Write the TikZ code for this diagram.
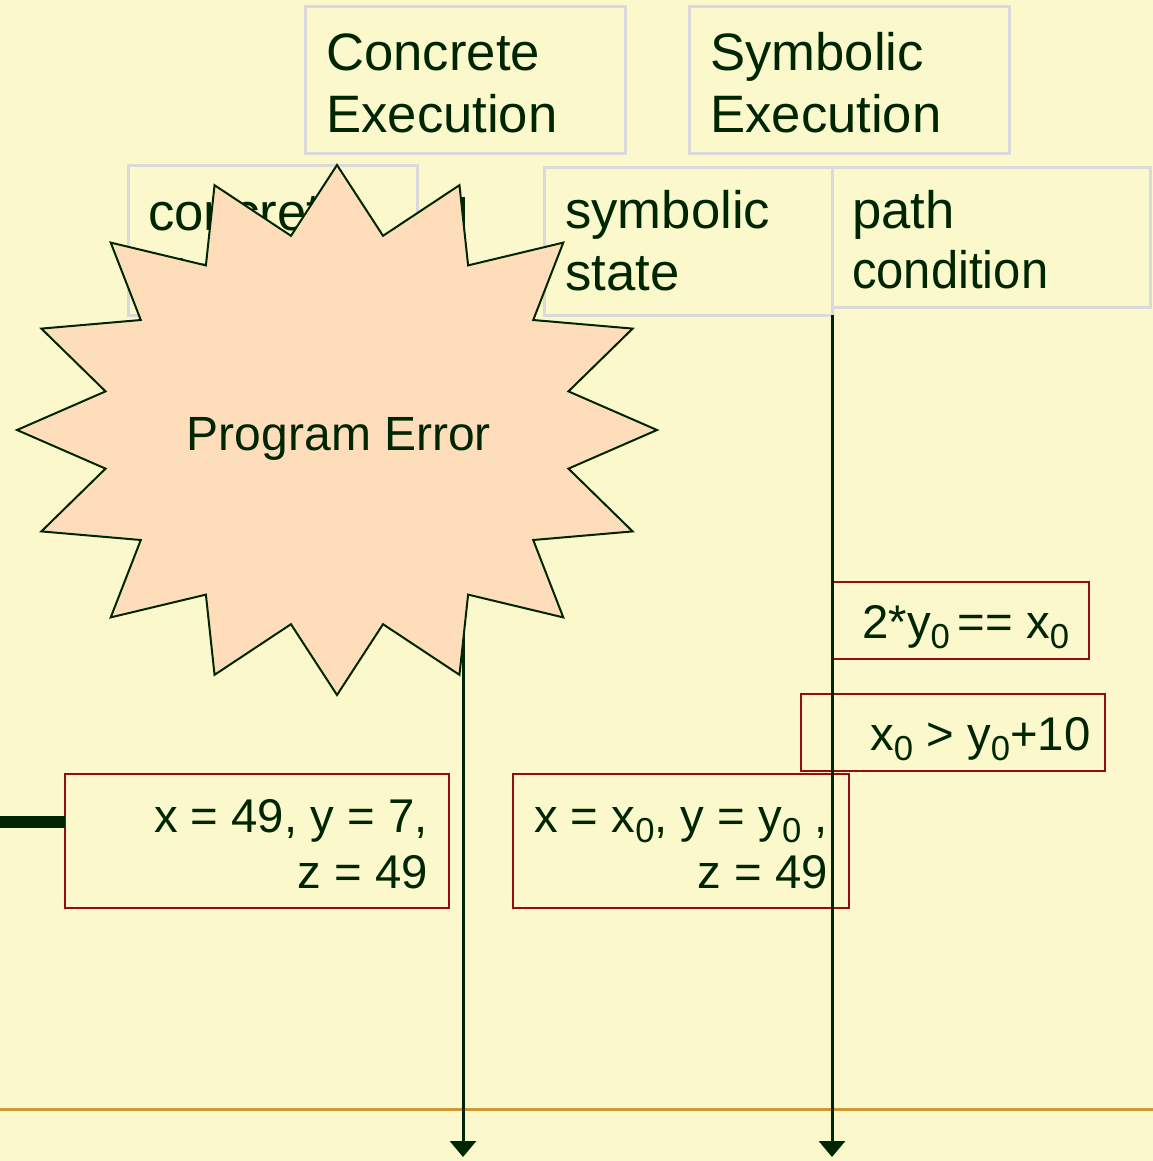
\documentclass[tikz,border=0pt]{standalone}
\usepackage{fontspec}
\setmainfont{Liberation Sans}
\usetikzlibrary{arrows.meta}
\definecolor{bgc}{RGB}{251,249,204}
\definecolor{ink}{RGB}{0,38,0}
\definecolor{redb}{RGB}{150,12,12}
\definecolor{grayb}{RGB}{218,218,218}
\definecolor{peach}{RGB}{254,221,187}
\definecolor{gold}{RGB}{204,153,51}
\newcommand\zsub{\raisebox{-8pt}{\fontsize{26}{26}\selectfont 0}}
\begin{document}
\begin{tikzpicture}[x=0.75pt,y=-0.75pt,
  hbox/.style={draw=grayb, line width=2.25pt, inner sep=0pt, outer sep=0pt, anchor=north west},
  rbox/.style={draw=redb, line width=1.8pt, inner sep=0pt, outer sep=0pt, anchor=north west},
  hd/.style={inner sep=0pt, text=ink, font=\fontsize{39.5}{39.5}\selectfont},
  val/.style={inner sep=0pt, text=ink, font=\fontsize{35.5}{35.5}\selectfont},
  flow/.style={draw=ink, line width=2.25pt, -{Triangle[width=19.5pt,length=12pt]}},
  starshape/.style={draw=ink, fill=peach, line width=1.5pt, line join=miter}]
\useasboundingbox (0,0) rectangle (1153,1161);
\fill[bgc] (0,0) rectangle (1153,1161);
% header boxes
\node[hbox, minimum width=240pt, minimum height=110.25pt] (ce) at (305,6) {};
\node[hbox, minimum width=240pt, minimum height=110.25pt] (se) at (689,6) {};
\node[hbox, minimum width=216.75pt, minimum height=112.5pt] (cs) at (128,165) {};
\node[hbox, minimum width=216pt, minimum height=111pt] (ss) at (544,167) {};
\node[hbox, minimum width=238.5pt, minimum height=105pt] (pc) at (832,167) {};
% header texts
\node[hd, anchor=base west] (ce1) at (326,70) {Concrete};
\node[hd, anchor=base west] (ce2) at (326,132) {Execution};
\node[hd, anchor=base west] (se1) at (710,70) {Symbolic};
\node[hd, anchor=base west] (se2) at (710,132) {Execution};
\node[hd, anchor=base west] (cs1) at (148,230) {concrete};
\node[hd, anchor=base west] (cs2) at (148,292) {state};
\node[hd, anchor=base west] (ss1) at (565,228) {symbolic};
\node[hd, anchor=base west] (ss2) at (565,290) {state};
\node[hd, anchor=base west] (pc1) at (852,228) {path};
\node[hd, anchor=base west] (pc2) at (852,288) {\scalebox{0.93}[1]{condition}};
% value boxes
\node[rbox, minimum width=288pt, minimum height=100.5pt] (cv) at (65,774) {};
\node[rbox, minimum width=252pt, minimum height=100.5pt] (sv) at (513,774) {};
\node[rbox, minimum width=192pt, minimum height=57.75pt] (p1) at (833,582) {};
\node[rbox, minimum width=228pt, minimum height=57.75pt] (p2) at (801,694) {};
\node[val, anchor=base east] (cv1) at (428,832) {x = 49, y = 7,};
\node[val, anchor=base east] (cv2) at (428,888) {z = 49};
\node[val, anchor=base east] (sv1) at (828,832) {x = x\zsub, y = y\zsub\ ,};
\node[val, anchor=base east] (sv2) at (828,888) {z = 49};
\node[val, anchor=base west] (p1t) at (862,638) {2*y\zsub\,== x\zsub};
\node[val, anchor=base west] (p2t) at (870,750) {x\zsub\ > y\zsub+10};
% lines
\coordinate (gl) at (0,1109);
\coordinate (gr) at (1153,1109);
\draw[gold, line width=2.25pt] (gl) -- (gr);
\coordinate (lft) at (0,822);
\draw[ink, line width=9pt] (lft) -- (lft -| cv.west);
\coordinate (ctop) at (463,197);
\coordinate (cbot) at (463,1157);
\coordinate (sbot) at (832,1157);
\draw[flow] (ctop) -- (cbot);
\draw[flow] (ss.south east) -- (sbot);
% star
\draw[starshape] (337,165) \foreach \a in {0,22.5,...,337.5}{
   -- ({337+236*sin(\a+11.25)},{430-198*cos(\a+11.25)})
   -- ({337+320*sin(\a+22.5)},{430-265*cos(\a+22.5)}) } -- cycle;
\node[inner sep=0pt, text=ink, font=\fontsize{36}{36}\selectfont, anchor=base] (err) at (339,450) {Program Error};
\end{tikzpicture}
\end{document}
